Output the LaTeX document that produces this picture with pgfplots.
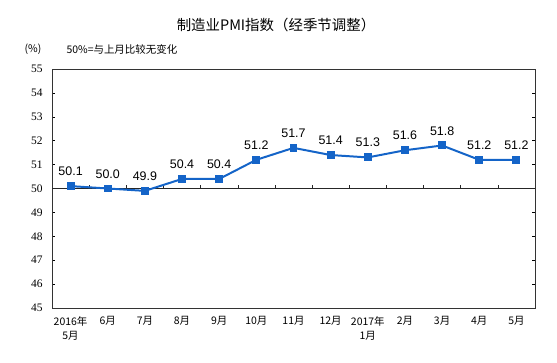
\documentclass[border=0pt]{standalone}
\usepackage{pgfplots}
\pgfplotsset{compat=1.18}
\usepackage{fontspec}
\setmainfont{Liberation Serif}
\setsansfont{Liberation Sans}
\newfontfamily\cjk{Noto Sans CJK SC}
\definecolor{pmiblue}{RGB}{20,100,200}
\begin{document}
\begin{tikzpicture}
\useasboundingbox (0bp,0bp) rectangle (557bp,363bp);
\node[font=\fontsize{14.5}{16}\selectfont\cjk] at (276bp,338bp) {制造业PMI指数（经季节调整）};
\node[font=\fontsize{10.5}{12}\selectfont\cjk] at (33bp,314bp) {(\%)};
\node[font=\fontsize{10.5}{12}\selectfont\cjk, anchor=west] at (63bp,314bp) {50\%=与上月比较无变化};
\begin{axis}[
  at={(52bp,55bp)}, anchor=south west,
  scale only axis, width=483bp, height=239bp,
  xmin=-0.5, xmax=12.5, ymin=45, ymax=55,
  ytick={45,46,...,55},
  xtick={0,...,12},
  xticklabels={{2016年\\5月},6月,7月,8月,9月,10月,11月,12月,{2017年\\1月},2月,3月,4月,5月},
  x tick label style={font=\fontsize{10.5}{14}\selectfont\cjk, align=center, anchor=north, yshift=-5bp},
  y tick label style={font=\fontsize{11.5}{13}\selectfont, xshift=-6bp},
  /pgf/number format/assume math mode=true,
  xtick style={draw=none},
  ytick style={black, thin},
  tick align=inside,
  major tick length=3bp,
  axis line style={black!80, line width=0.8pt},
  clip=false,
  nodes near coords,
  every node near coord/.append style={font=\fontsize{12.5}{14}\selectfont\sffamily, black, yshift=6bp},
  point meta=explicit symbolic,
]
\draw[black!85, line width=0.8pt] (axis cs:-0.5,50) -- (axis cs:12.5,50);
\pgfplotsinvokeforeach{0.5,1.5,...,11.5}{
  \draw[black!85, thin] (axis cs:#1,50) -- (axis cs:#1,50.15);
}
\addplot[pmiblue, line width=2pt, mark=square*, mark size=3bp, mark options={pmiblue}] table[meta=label] {
x y label
0 50.1 50.1
1 50.0 50.0
2 49.9 49.9
3 50.4 50.4
4 50.4 50.4
5 51.2 51.2
6 51.7 51.7
7 51.4 51.4
8 51.3 51.3
9 51.6 51.6
10 51.8 51.8
11 51.2 51.2
12 51.2 51.2
};
\end{axis}
\end{tikzpicture}
\end{document}
